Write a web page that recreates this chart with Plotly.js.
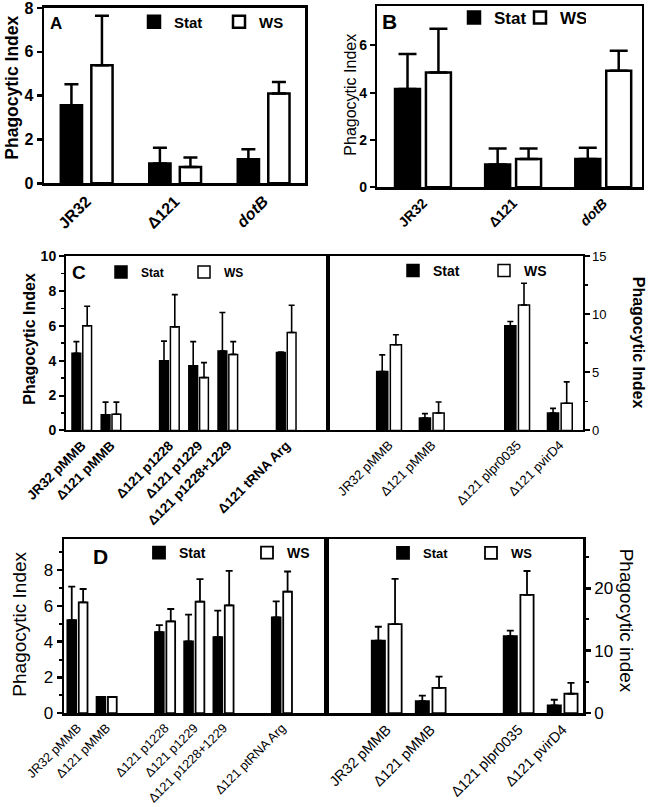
<!DOCTYPE html>
<html><head><meta charset="utf-8">
<script src="https://cdn.plot.ly/plotly-3.0.1.min.js"></script>
<style>body{margin:0;background:#fff}#chart{width:650px;height:807px}</style>
</head><body><div id="chart"></div>
<script>
// ---------- DATA ----------
// Panel A
const catsA = ["JR32", "Δ121", "<i>dotB</i>"];
const statA = [3.56, 0.9, 1.1];
const statErrA = [0.96, 0.72, 0.46];
const wsA = [5.39, 0.75, 4.1];
const wsErrA = [2.26, 0.43, 0.52];
// Panel B
const catsB = ["JR32", "Δ121", "<i>dotB</i>"];
const statB = [4.15, 0.96, 1.2];
const statErrB = [1.48, 0.68, 0.47];
const wsB = [4.85, 1.2, 4.92];
const wsErrB = [1.85, 0.44, 0.85];
// Panel C (left)
const catsCL = ["JR32 pMMB", "Δ121 pMMB", "Δ121 p1228", "Δ121 p1229", "Δ121 p1228+1229", "Δ121 tRNA Arg"];
const orderCL = ["JR32 pMMB", "Δ121 pMMB", " ", "Δ121 p1228", "Δ121 p1229", "Δ121 p1228+1229", "  ", "Δ121 tRNA Arg"];
const statCL = [4.42, 0.9, 4.0, 3.71, 4.55, 4.47];
const statErrCL = [0.67, 0.72, 1.12, 1.38, 2.21, 0.03];
const wsCL = [6.0, 0.93, 5.94, 3.03, 4.36, 5.62];
const wsErrCL = [1.12, 0.69, 1.85, 0.86, 0.73, 1.56];
// Panel C (right)
const catsCR = ["JR32 pMMB", "Δ121 pMMB", "Δ121 plpr0035", "Δ121 pvirD4"];
const orderCR = ["JR32 pMMB", "Δ121 pMMB", " ", "Δ121 plpr0035", "Δ121 pvirD4"];
const statCR = [5.06, 1.07, 9.0, 1.5];
const statErrCR = [1.44, 0.37, 0.37, 0.4];
const wsCR = [7.37, 1.5, 10.79, 2.34];
const wsErrCR = [0.86, 0.95, 1.87, 1.84];
// Panel D (left)
const catsDL = ["JR32 pMMB", "Δ121 pMMB", "Δ121 p1228", "Δ121 p1229", "Δ121 p1228+1229", "Δ121 ptRNA Arg"];
const orderDL = ["JR32 pMMB", "Δ121 pMMB", " ", "Δ121 p1228", "Δ121 p1229", "Δ121 p1228+1229", "  ", "Δ121 ptRNA Arg"];
const statDL = [5.21, 0.9, 4.53, 4.02, 4.25, 5.36];
const statErrDL = [1.87, 0, 0.4, 1.49, 1.49, 0.9];
const wsDL = [6.2, 0.9, 5.14, 6.24, 6.03, 6.8];
const wsErrDL = [0.75, 0, 0.69, 1.26, 1.94, 1.13];
// Panel D (right)
const catsDR = ["JR32 pMMB", "Δ121 pMMB", "Δ121 plpr0035", "Δ121 pvirD4"];
const orderDR = ["JR32 pMMB", "Δ121 pMMB", " ", "Δ121 plpr0035", "Δ121 pvirD4"];
const statDR = [11.6, 1.9, 12.34, 1.22];
const statErrDR = [2.23, 0.9, 0.86, 0.91];
const wsDR = [14.26, 4.04, 18.94, 3.09];
const wsErrDR = [7.24, 1.81, 3.83, 1.75];

const seriesNames = ["Stat", "WS"];

// ---------- STYLE / LAYOUT ----------
const W = 650, H = 807;
const FONT = "Liberation Sans, Arial, sans-serif";
const fx = p => p / W;
const fy = p => 1 - p / H;

function pair(n, cats, st, stE, ws, wsE, legendId, s) {
  const ax = n === 1 ? '' : String(n);
  const zeros = cats.map(() => 0);
  const base = {type: 'bar', x: cats, xaxis: 'x' + ax, yaxis: 'y' + ax, legend: legendId, width: s.w, hoverinfo: 'skip'};
  return [
    Object.assign({}, base, {y: st, name: seriesNames[0], offset: s.o1,
      marker: {color: '#000', line: {color: '#000', width: s.lw}},
      error_y: {type: 'data', symmetric: false, array: stE, arrayminus: zeros, color: '#000', thickness: s.et, width: s.ew}}),
    Object.assign({}, base, {y: ws, name: seriesNames[1], offset: s.o2,
      marker: {color: '#fff', line: {color: '#000', width: s.lw}},
      error_y: {type: 'data', symmetric: false, array: wsE, arrayminus: zeros, color: '#000', thickness: s.et, width: s.ew}})
  ];
}

const data = [].concat(
  pair(1, catsA, statA, statErrA, wsA, wsErrA, 'legend', {w: 0.24, o1: -0.29, o2: 0.055, lw: 2.5, et: 2.5, ew: 7}),
  pair(2, catsB, statB, statErrB, wsB, wsErrB, 'legend2', {w: 0.277, o1: -0.31, o2: 0.033, lw: 2.5, et: 2.5, ew: 9}),
  pair(3, catsCL, statCL, statErrCL, wsCL, wsErrCL, 'legend3', {w: 0.3, o1: -0.335, o2: 0.035, lw: 1.5, et: 1.6, ew: 3}),
  pair(4, catsCR, statCR, statErrCR, wsCR, wsErrCR, 'legend4', {w: 0.26, o1: -0.29, o2: 0.03, lw: 1.5, et: 1.6, ew: 3}),
  pair(5, catsDL, statDL, statErrDL, wsDL, wsErrDL, 'legend5', {w: 0.3, o1: -0.345, o2: 0.045, lw: 1.8, et: 1.8, ew: 3.5}),
  pair(6, catsDR, statDR, statErrDR, wsDR, wsErrDR, 'legend6', {w: 0.3, o1: -0.34, o2: 0.04, lw: 1.8, et: 1.8, ew: 3.5})
);

function xax(box, range, order, font, lw, anchor) {
  return {domain: [fx(box[0]), fx(box[1])], range: range, anchor: anchor, type: 'category',
    categoryorder: 'array', categoryarray: order,
    showline: true, linecolor: '#000', linewidth: lw, mirror: true, ticks: '', tickangle: -45,
    tickfont: font, showgrid: false, zeroline: false, fixedrange: true};
}
function yax(box, range, dtick, minor, font, lw, tl, anchor, side) {
  const o = {domain: [fy(box[3]), fy(box[2])], range: range, anchor: anchor, side: side || 'left',
    showline: true, linecolor: '#000', linewidth: lw, mirror: true,
    ticks: 'outside', ticklen: tl, tickwidth: lw, tickcolor: '#000', dtick: dtick, tick0: 0,
    ticklabeloverflow: 'allow',
    tickfont: font, showgrid: false, zeroline: false, fixedrange: true};
  if (minor) o.minor = {dtick: minor, ticks: 'outside', ticklen: tl * 0.6, tickwidth: lw * 0.8, tickcolor: '#000', showgrid: false};
  return o;
}
function leg(boxLeft, cy, size, entry) {
  return {x: fx(boxLeft - 14), y: fy(cy), xanchor: 'left', yanchor: 'middle', orientation: 'h',
    bgcolor: 'rgba(0,0,0,0)', borderwidth: 0, itemwidth: 30, entrywidth: entry, entrywidthmode: 'pixels',
    font: {family: FONT, size: size, weight: 'bold', color: '#000'}, traceorder: 'normal'};
}
const f = (size, bold) => ({family: FONT, size: size, color: '#000', weight: bold ? 'bold' : 'normal'});

const boxA = [44, 305, 5, 181], boxB = [377, 642, 3, 185];
const boxCL = [66, 328, 254, 429], boxCR = [328, 582.5, 254, 429];
const boxDL = [64, 326, 538, 712.7], boxDR = [326, 583.3, 538, 712.7];

function ann(text, x, y, size, bold, angle) {
  return {text: text, x: fx(x), y: fy(y), xref: 'paper', yref: 'paper', showarrow: false,
    xanchor: 'center', yanchor: 'middle', textangle: angle || 0, font: f(size, bold)};
}

const layout = {
  width: W, height: H, margin: {l: 0, r: 0, t: 0, b: 0},
  paper_bgcolor: '#fff', plot_bgcolor: 'rgba(0,0,0,0)', barmode: 'group', showlegend: true,
  font: {family: FONT, color: '#000'},
  xaxis: xax(boxA, [-0.48, 2.47], catsA, f(16, true), 2.5, 'y'),
  yaxis: yax(boxA, [0, 8.001], 2, null, f(16, true), 2.5, 5, 'x'),
  xaxis2: xax(boxB, [-0.51, 2.43], catsB, f(14, true), 2.2, 'y2'),
  yaxis2: yax(boxB, [0, 7.66], 2, null, f(14, true), 2.2, 5, 'x2'),
  xaxis3: xax(boxCL, [-0.54, 8.43], orderCL, f(13.5, true), 2, 'y3'),
  yaxis3: yax(boxCL, [0, 10.001], 2, 1, f(14, true), 2, 5, 'x3'),
  xaxis4: xax(boxCR, [-1.43, 4.53], orderCR, f(13, false), 2, 'y4'),
  yaxis4: yax(boxCR, [0, 15.001], 5, 2.5, f(13, false), 2, 5, 'x4', 'right'),
  xaxis5: xax(boxDL, [-0.46, 8.51], orderDL, f(12.8, false), 2.5, 'y5'),
  yaxis5: yax(boxDL, [0, 9.75], 2, 1, f(17, false), 2.5, 5, 'x5'),
  xaxis6: xax(boxDR, [-1.38, 4.47], orderDR, f(14.5, false), 2.5, 'y6'),
  yaxis6: yax(boxDR, [0, 27.9], 10, 5, f(17, false), 2.5, 5, 'x6', 'right'),
  legend: leg(148, 19, 15, 40),
  legend2: leg(468, 15, 17, 21),
  legend3: leg(115, 270, 12, 38),
  legend4: leg(407, 269, 14, 46),
  legend5: leg(153, 552, 14, 63),
  legend6: leg(397, 552, 13, 43),
  annotations: [
    ann('Phagocytic Index', 12, 85, 17.5, true, -90),
    ann('Phagocytic Index', 351, 92, 16, false, -90),
    ann('Phagocytic Index', 30, 337, 16, true, -90),
    ann('Phagocytic Index', 638, 341, 16, true, 90),
    ann('Phagocytic Index', 20, 624, 19, false, -90),
    ann('Phagocytic index', 626, 620, 19, false, 90),
    ann('A', 56, 21, 17, true),
    ann('B', 389, 19, 21, true),
    ann('C', 79, 271, 19, true),
    ann('D', 100, 556, 21, true)
  ]
};

Plotly.newPlot('chart', data, layout, {staticPlot: true, displayModeBar: false});
</script>
</body></html>
